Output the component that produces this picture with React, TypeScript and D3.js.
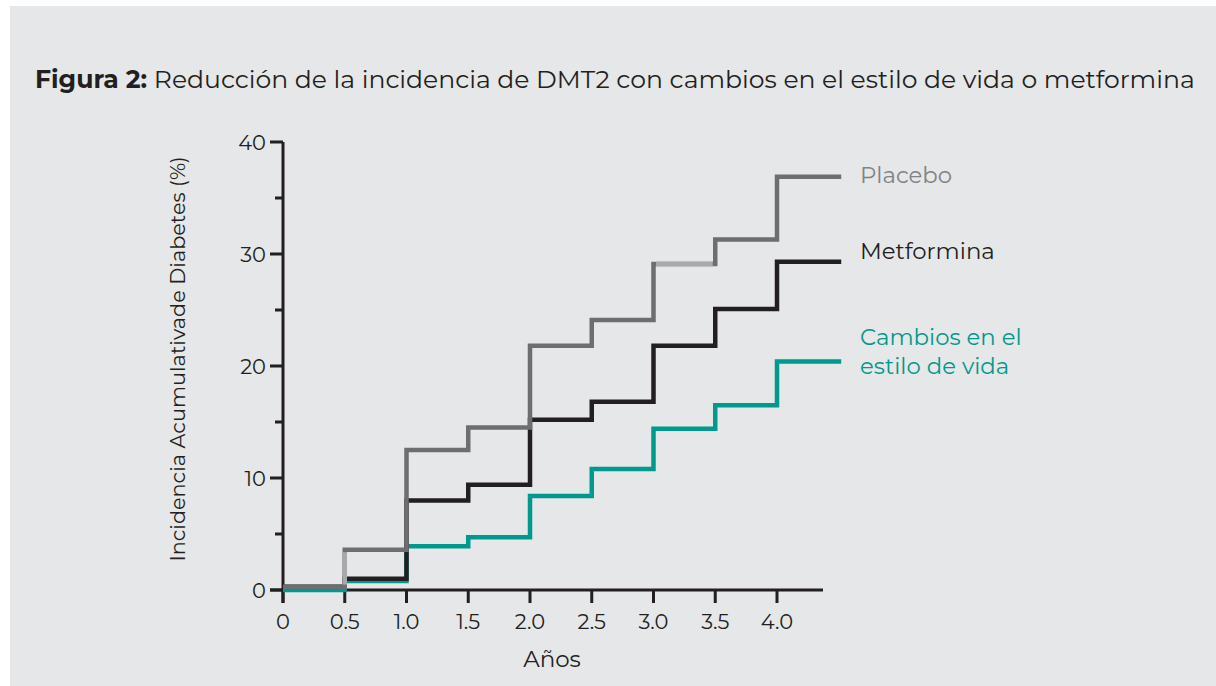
import React from "react";
import * as d3 from "d3";

const years = [0, 0.5, 1.0, 1.5, 2.0, 2.5, 3.0, 3.5, 4.0];
const endYear = 4.52;
const placebo = [0.3, 3.6, 12.5, 14.5, 21.8, 24.1, 29.1, 31.3, 36.9];
const metformina = [0.3, 1.0, 8.0, 9.4, 15.2, 16.8, 21.8, 25.1, 29.3];
const estiloVida = [0.0, 0.8, 3.9, 4.7, 8.4, 10.8, 14.4, 16.5, 20.4];
// steps of the placebo curve drawn in a lighter grey in the original
const placeboLightRises = [1];
const placeboLightFlats = [6];
const xTicks = [0, 0.5, 1.0, 1.5, 2.0, 2.5, 3.0, 3.5, 4.0];
const xTickLabels = ["0", "0.5", "1.0", "1.5", "2.0", "2.5", "3.0", "3.5", "4.0"];
const yMajorTicks = [0, 10, 20, 30, 40];
const yMinorTicks = [5, 15, 25, 35];

const seriesList = [
  { name: "Cambios en el estilo de vida", lines: ["Cambios en el", "estilo de vida"], values: estiloVida, color: "#00998d", label: "#00998d", labelY: 345 },
  { name: "Metformina", lines: ["Metformina"], values: metformina, color: "#231f20", label: "#231f20", labelY: 259 },
  { name: "Placebo", lines: ["Placebo"], values: placebo, color: "#6d6e71", label: "#808285", labelY: 183 },
];

const FONT = "Montserrat, 'Open Sans', Lato, sans-serif";
const LIGHT = "#a7a9ac";

export default function App() {
  const W = 1216, H = 686;
  const x = d3.scaleLinear().domain([0, 4]).range([283, 777]);
  const y = d3.scaleLinear().domain([0, 40]).range([590, 142]);
  const line = d3.line<[number, number]>().x(d => x(d[0])).y(d => y(d[1])).curve(d3.curveStepAfter);

  const pts = (vals: number[]): [number, number][] => {
    const p: [number, number][] = years.map((yr, i) => [yr, vals[i]]);
    p.push([endYear, vals[vals.length - 1]]);
    return p;
  };

  return (
    <div style={{ position: "absolute", left: 0, top: 0 }}>
      <svg width={W} height={H} style={{ display: "block" }}>
        <rect x={0} y={0} width={W} height={H} fill="#ffffff" />
        <rect x={10} y={6} width={W - 10} height={H - 6} fill="#e6e7e8" />
        <text x={35} y={88} fontFamily={FONT} fontSize={25.1} fill="#231f20">
          <tspan fontWeight="bold">Figura 2:</tspan>
          <tspan> Reducción de la incidencia de DMT2 con cambios en el estilo de vida o metformina</tspan>
        </text>

        {/* axes */}
        <g stroke="#231f20" strokeWidth={3} fill="none">
          <line x1={x(0)} x2={x(0)} y1={y(40)} y2={603} />
          <line x1={270} x2={823} y1={y(0)} y2={y(0)} />
          {yMajorTicks.map(t => (
            <line key={"ym" + t} x1={270} x2={x(0)} y1={y(t)} y2={y(t)} />
          ))}
          {yMinorTicks.map(t => (
            <line key={"yn" + t} x1={275} x2={x(0)} y1={y(t)} y2={y(t)} />
          ))}
          {xTicks.map(t => (
            <line key={"xt" + t} x1={x(t)} x2={x(t)} y1={y(0)} y2={603} />
          ))}
        </g>
        <g fontFamily={FONT} fontSize={21} fill="#231f20">
          {yMajorTicks.map(t => (
            <text key={"yl" + t} x={266} y={y(t)} dy="0.36em" textAnchor="end">{t}</text>
          ))}
          {xTicks.map((t, i) => (
            <text key={"xl" + t} x={x(t)} y={629} textAnchor="middle">{xTickLabels[i]}</text>
          ))}
          <text x={552} y={667} textAnchor="middle" fontSize={23}>Años</text>
          <text transform={`translate(185,359) rotate(-90)`} textAnchor="middle" fontSize={20.8}>Incidencia Acumulativade Diabetes (%)</text>
        </g>

        {/* series */}
        {seriesList.map(s => (
          <path key={s.name} d={line(pts(s.values)) || ""} fill="none" stroke={s.color} strokeWidth={4.5} strokeLinejoin="miter" strokeLinecap="butt" />
        ))}
        {/* lighter placebo segments */}
        <g stroke={LIGHT} strokeWidth={4.5} fill="none">
          {placeboLightRises.map(i => (
            <line key={"r" + i} x1={x(years[i])} x2={x(years[i])} y1={y(placebo[i - 1]) - 2} y2={y(placebo[i]) + 2.5} />
          ))}
          {placeboLightFlats.map(i => (
            <line key={"f" + i} x1={x(years[i]) + 2.5} x2={x(years[i + 1]) - 2.5} y1={y(placebo[i])} y2={y(placebo[i])} />
          ))}
        </g>

        {/* labels */}
        <g fontFamily={FONT} fontSize={22.8}>
          {seriesList.map(s => (
            <text key={"lab" + s.name} x={860} fill={s.label}>
              {s.lines.map((ln, i) => (
                <tspan key={i} x={860} y={s.labelY + i * 29}>{ln}</tspan>
              ))}
            </text>
          ))}
        </g>
      </svg>
    </div>
  );
}
